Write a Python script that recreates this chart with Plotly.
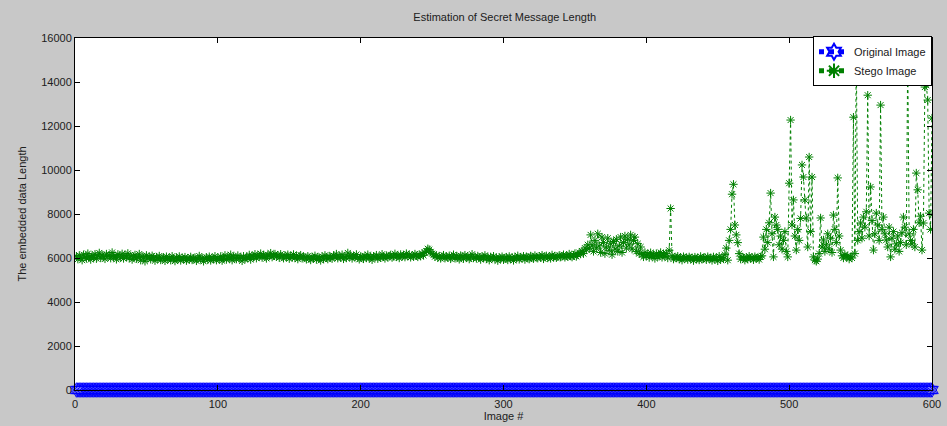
import plotly.graph_objects as go

# ---- data ----
image_index = list(range(1, 601))

original_length = [0] * 600

stego_length = [
    6080, 5950, 6120, 6010, 5900, 6150, 6040, 5980, 6200, 6060, 5930, 6110, 6020, 6170, 5970, 6090, 6230, 6000, 6140, 6050,
    5960, 6180, 6070, 6120, 5990, 6250, 6030, 6100, 5940, 6160, 6080, 6010, 6190, 5980, 6120, 6040, 6210, 6000, 6090, 5930,
    6060, 6140, 5970, 6030, 6180, 5900, 6070, 6010, 5850, 6120, 5990, 6050, 5940, 6100, 6020, 5880, 6040, 5960, 6090, 5910,
    5980, 6030, 5870, 6060, 5950, 6010, 5900, 6080, 5970, 5860, 6020, 5940, 6070, 5890, 6000, 5950, 6040, 5880, 5990, 5930,
    6050, 5910, 5980, 6020, 5870, 5960, 6090, 5940, 6000, 5850, 5970, 6030, 5920, 6060, 5890, 5990, 5950, 6080, 5900, 6010,
    5940, 6070, 5880, 5990, 6120, 5930, 6040, 5970, 6150, 5900, 6060, 6000, 5950, 6110, 5980, 6020, 5870, 6080, 5960, 6030,
    6000, 6140, 5930, 6090, 6040, 6170, 5990, 6100, 6060, 6200, 6020, 6130, 6070, 5980, 6150, 6090, 6220, 6040, 6110, 6180,
    6060, 6130, 6010, 6170, 6080, 5990, 6120, 6050, 6150, 5970, 6090, 6030, 6160, 6000, 6100, 5950, 6070, 6130, 5990, 6060,
    6020, 5940, 6080, 6010, 5910, 6050, 5980, 6100, 5930, 6040, 6000, 5890, 6070, 5960, 6120, 6010, 5950, 6090, 6030, 5970,
    6110, 6040, 6180, 5990, 6080, 6020, 6150, 5960, 6060, 6000, 6230, 6050, 6120, 5980, 6090, 6040, 6160, 6010, 5940, 6070,
    6030, 5960, 6100, 6000, 6150, 5990, 6060, 5920, 6080, 6040, 6130, 5970, 6050, 6010, 6170, 6060, 5980, 6110, 6030, 6090,
    6140, 6020, 6080, 6190, 6050, 6110, 6000, 6160, 6070, 6130, 6040, 6200, 6090, 6150, 6030, 6120, 6060, 6180, 6100, 6050,
    6140, 6080, 6210, 6120, 6250, 6310, 6420, 6380, 6280, 6200, 6150, 6060, 6120, 6010, 6090, 5980, 6050, 6130, 5990, 6070,
    6020, 6100, 5960, 6040, 6150, 5990, 6080, 6020, 5940, 6110, 6050, 5970, 6130, 6010, 6080, 5950, 6040, 6170, 6000, 6060,
    5980, 6090, 6030, 5930, 6070, 6010, 6120, 5960, 6040, 5900, 6050, 5990, 6080, 5940, 6010, 5880, 6030, 5970, 6060, 5920,
    5990, 6040, 5910, 6070, 5960, 6020, 5890, 6050, 5980, 6100, 5940, 6030, 5990, 6080, 5930, 6060, 6010, 5950, 6090, 6030,
    5970, 6110, 6040, 5990, 6080, 6020, 6130, 5960, 6050, 6100, 6000, 6070, 5980, 6140, 6030, 6090, 6010, 6060, 6120, 6040,
    6080, 6150, 6030, 6100, 6060, 6180, 6090, 6040, 6130, 6200, 6070, 6150, 6250, 6180, 6320, 6200, 6450, 6380, 6600, 6420,
    7050, 6600, 6300, 6800, 6450, 7100, 6550, 6250, 6950, 6700, 6200, 6500, 6900, 6350, 6650, 6150, 6750, 6400, 6850, 6300,
    6550, 6950, 6250, 6700, 7000, 6450, 6850, 6600, 7050, 6400, 6800, 6950, 6300, 6650, 6200, 6500, 6150, 6050, 6250, 6100,
    6180, 6020, 6240, 6090, 6150, 5980, 6200, 6060, 6120, 6250, 6030, 6170, 6080, 6210, 6000, 6350, 8250, 6100, 5950, 6040,
    6000, 6080, 5950, 6030, 5900, 6060, 5980, 6020, 5930, 6050, 5970, 6010, 5880, 6040, 5960, 6000, 5910, 6070, 5940, 5990,
    6030, 5920, 6060, 5970, 6000, 5890, 6050, 5950, 6010, 5870, 6080, 5930, 6020, 5960, 6150, 6450, 5900, 6800, 7300, 8900,
    9350, 7500, 7050, 6700, 6200, 5950, 6050, 6000, 5900, 6020, 5950, 6080, 5980, 6030, 5920, 6060, 5990, 6010, 5930, 6050,
    6100, 6950, 6400, 7300, 6700, 7600, 8950, 7100, 6050, 7860, 7500, 7300, 6600, 7000, 6400, 6800, 7200, 6300, 6050, 9400,
    12270, 7500, 8640, 7000, 6360, 7300, 6800, 7800, 10230, 9680, 8640, 7820, 6500, 10590, 7200, 9680, 6050, 5900, 5850, 5950,
    6200, 7820, 6500, 6820, 6300, 6600, 7100, 6400, 6900, 6250, 7950, 7300, 6700, 9640, 7000, 6360, 6100, 6000, 6150, 6050,
    6100, 5950, 6050, 6000, 12400, 6200, 15400, 6800, 7200, 7590, 6900, 7860, 7400, 8100, 13400, 7000, 9230, 7700, 6360, 7100,
    8040, 7500, 6800, 12950, 7300, 7860, 7100, 6820, 6500, 7400, 6050, 6900, 7200, 6400, 6640, 7000, 6300, 6700, 7150, 7860,
    7400, 6600, 15200, 7100, 6800, 6640, 7300, 6500, 9860, 9100, 7600, 7900, 6360, 7590, 13770, 13860, 13180, 8040, 7300, 12360,
]

x_ticks = [0, 100, 200, 300, 400, 500, 600]
y_ticks = [0, 2000, 4000, 6000, 8000, 10000, 12000, 14000, 16000]

FONT = "Liberation Sans, Arial, sans-serif"

fig = go.Figure()
fig.add_trace(go.Scatter(
    x=image_index, y=original_length, name="Original Image",
    mode="lines+markers", cliponaxis=False,
    line=dict(color="#0000ff", width=1, dash="dot"),
    marker=dict(symbol="hexagram-open", size=11, color="#0000ff",
                line=dict(color="#0000ff", width=1)),
))
fig.add_trace(go.Scatter(
    x=image_index, y=stego_length, name="Stego Image",
    mode="lines+markers",
    line=dict(color="#008000", width=1, dash="dot"),
    marker=dict(symbol="asterisk-open", size=7, color="#008000",
                line=dict(color="#006400", width=1)),
))

fig.update_layout(
    width=947, height=426,
    margin=dict(l=75, r=15, t=38, b=36),
    paper_bgcolor="#c8c8c8",
    plot_bgcolor="#ffffff",
    font=dict(family=FONT, size=11, color="#202020"),
    title=dict(text="Estimation of Secret Message Length",
               x=0.533, xanchor="center", y=1 - 17 / 426, yanchor="middle",
               yref="container", font=dict(size=11, color="#202020")),
    showlegend=True,
    legend=dict(x=1, xanchor="right", y=1.005, yanchor="top",
                bgcolor="#ffffff", bordercolor="#000000", borderwidth=1,
                font=dict(size=11, color="#202020"),
                tracegroupgap=0, itemsizing="constant"),
    xaxis=dict(range=[0, 600], tickvals=x_ticks, ticktext=[str(v) for v in x_ticks],
               ticks="inside", ticklen=5, tickcolor="#000000",
               showline=True, linecolor="#000000", linewidth=1, mirror="ticks",
               showgrid=False, zeroline=False, automargin=False, ticklabelstandoff=4,
               title=dict(text="Image #", standoff=0, font=dict(size=11))),
    yaxis=dict(range=[0, 16000], tickvals=y_ticks, ticktext=[str(v) for v in y_ticks],
               ticks="inside", ticklen=5, tickcolor="#000000",
               showline=True, linecolor="#000000", linewidth=1, mirror="ticks",
               showgrid=False, zeroline=False, automargin=False,
               title=dict(text="The embedded data Length", standoff=12, font=dict(size=11))),
)

fig.write_html("out.html")
